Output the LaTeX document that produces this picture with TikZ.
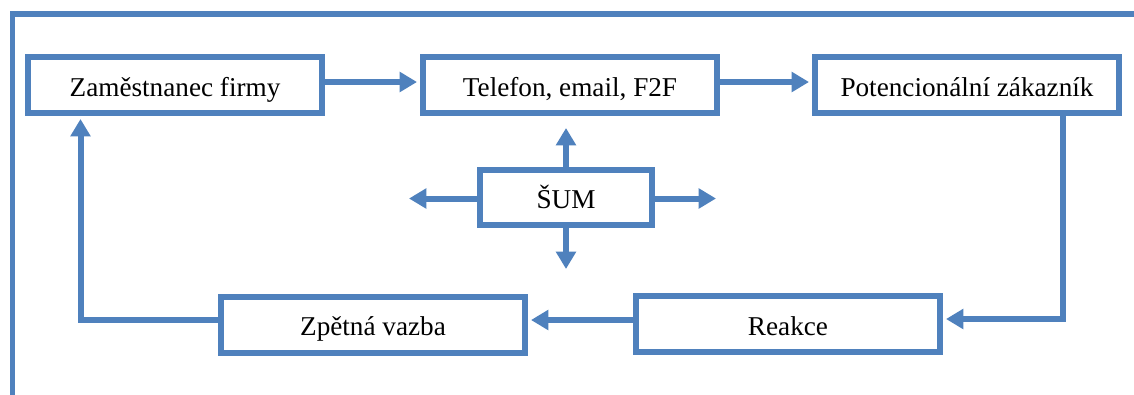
\documentclass[tikz,border=0pt]{standalone}
\usepackage{fontspec}
\setmainfont{Liberation Serif}
\usetikzlibrary{arrows.meta,calc}
\definecolor{officeblue}{HTML}{4F81BD}
\begin{document}
\begin{tikzpicture}[x=0.75pt,y=-0.75pt,
  box/.style={draw=officeblue, line width=4.5pt, fill=white, inner sep=0pt,
    minimum height=42pt, text height=21pt, text depth=4pt,
    font=\fontsize{20.4}{24}\selectfont, text=black},
  flow/.style={draw=officeblue, line width=4.5pt,
    -{Triangle[length=13pt,width=14.5pt]}, shorten >=2.25pt},
  rule/.style={draw=officeblue, line width=4.2pt}]
\clip (0,0) rectangle (1134,394);
\fill[white] (0,0) rectangle (1134,394);

% surrounding frame
\draw[rule] (12.5,420) -- (12.5,14) -- (1160,14);

% message path
\node[box, minimum width=220.5pt] (emp)  at (175,85)  {Zaměstnanec firmy};
\node[box, minimum width=220.5pt] (chan) at (570,85)  {Telefon, email, F2F};
\node[box, minimum width=228pt]   (cust) at (967,85)  {Potencionální zákazník};
\node[box, minimum width=129pt, minimum height=41.25pt] (noise) at (566,197.5) {ŠUM};
\node[box, minimum width=228pt]   (react) at (788,324) {Reakce};
\node[box, minimum width=228pt]   (back)  at (373,324.5) {Zpětná vazba};

\draw[flow] ([yshift=2.25pt]emp.east) -- ([yshift=2.25pt]emp.east -| chan.west);
\draw[flow] ([yshift=2.25pt]chan.east) -- ([yshift=2.25pt]chan.east -| cust.west);

% noise spreading in all directions
\coordinate (nu) at (566,128);
\coordinate (nd) at (566,269);
\coordinate (nl) at (409,198.5);
\coordinate (nr) at (716,198.5);
\draw[flow, shorten >=0pt] (noise.north) -- (nu);
\draw[flow, shorten >=0pt] (noise.south) -- (nd);
\draw[flow, shorten >=0pt] (noise.west |- nl) -- (nl);
\draw[flow, shorten >=0pt] (noise.east |- nr) -- (nr);

% customer reaction and feedback loop
\coordinate (rc) at (1063,319);
\draw[flow] (rc |- cust.south) -- (rc) -- (rc -| react.east);
\draw[flow] ([yshift=3pt]react.west) -- ([yshift=3pt]react.west -| back.east);
\coordinate (fc) at (80.5,320);
\draw[flow] (fc -| back.west) -- (fc) -- (fc |- emp.south);
\end{tikzpicture}
\end{document}
